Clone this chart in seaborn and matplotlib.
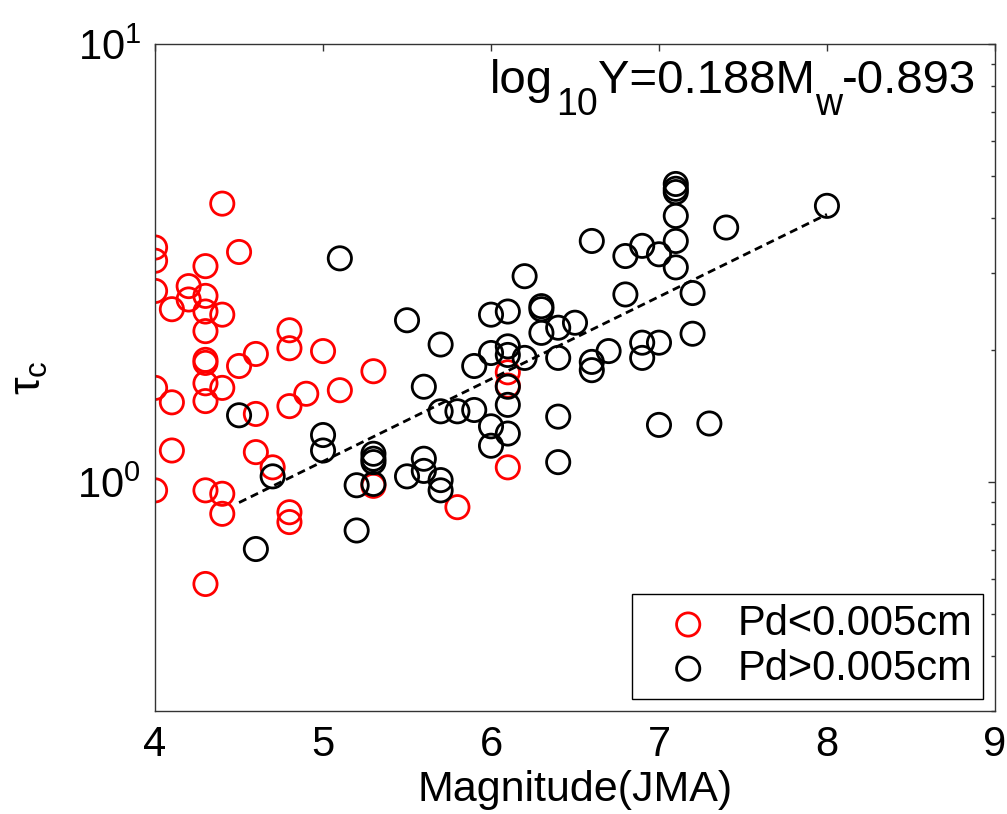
import numpy as np
import pandas as pd
import seaborn as sns
import matplotlib.pyplot as plt
from matplotlib.ticker import FixedLocator, LogLocator, FuncFormatter, NullFormatter

# Pd < 0.005 cm (red)
red_m = [4.4, 4.0, 4.0, 4.5, 4.3, 4.0, 4.2, 4.2, 4.1, 4.3, 4.3, 4.4, 4.3, 4.8, 4.8,
         5.0, 4.6, 4.5, 4.3, 4.3, 5.3, 4.0, 4.3, 4.4, 4.1, 4.3, 4.6, 4.8, 4.9, 5.1,
         4.1, 4.6, 4.7, 4.0, 4.3, 4.4, 4.4, 4.8, 4.8, 4.3, 5.3, 5.8, 6.1, 6.1, 6.1]
red_tau = [4.32, 3.43, 3.20, 3.35, 3.11, 2.73, 2.80, 2.61, 2.48, 2.66, 2.45, 2.41, 2.21, 2.22, 2.02,
           1.99, 1.96, 1.84, 1.90, 1.87, 1.79, 1.64, 1.68, 1.64, 1.52, 1.53, 1.43, 1.49, 1.59, 1.62,
           1.18, 1.17, 1.08, 0.957, 0.957, 0.94, 0.846, 0.853, 0.81, 0.585, 0.98, 0.876, 1.78, 1.66, 1.08]

# Pd > 0.005 cm (black)
blk_m = [5.1, 5.5, 4.5, 5.0, 5.0, 4.7, 5.3, 5.3, 5.3, 5.2, 5.3, 5.5, 5.2, 4.6,
         6.6, 6.8, 6.2, 6.8, 6.0, 6.1, 6.3, 6.3, 6.3, 6.4, 6.5, 5.7, 6.0, 6.1, 6.1,
         6.2, 5.9, 6.4, 6.6, 6.6, 6.7, 6.9, 6.9, 6.1, 6.1, 6.1, 5.6, 5.7, 5.8, 5.9,
         6.0, 6.0, 6.4, 6.4, 5.6, 5.6, 5.7, 5.7, 7.1, 7.1, 7.1, 7.1, 7.1, 7.1, 8.0,
         7.4, 6.9, 7.0, 7.2, 7.2, 7.0, 7.0, 7.3]
blk_tau = [3.24, 2.34, 1.42, 1.28, 1.18, 1.03, 1.16, 1.13, 1.11, 0.983, 0.99, 1.03, 0.775, 0.703,
           3.55, 3.28, 2.95, 2.68, 2.41, 2.45, 2.52, 2.48, 2.19, 2.25, 2.31, 2.06, 1.97, 2.04, 1.95,
           1.92, 1.84, 1.92, 1.88, 1.80, 1.99, 2.08, 1.92, 1.65, 1.50, 1.29, 1.65, 1.45, 1.45, 1.46,
           1.34, 1.21, 1.41, 1.11, 1.13, 1.06, 1.01, 0.957, 4.79, 4.67, 4.59, 4.05, 3.55, 3.09, 4.27,
           3.81, 3.46, 3.31, 2.70, 2.18, 2.08, 1.35, 1.36]

# fit: log10(Y) = 0.188 Mw - 0.893
fit_slope = 0.188
fit_icpt = -0.893
fit_m = [4.5, 8.0]

sns.set_style('white')
plt.rcParams['font.family'] = ['Liberation Sans', 'DejaVu Sans']
plt.rcParams['mathtext.fontset'] = 'custom'
plt.rcParams['mathtext.rm'] = 'Liberation Sans'
plt.rcParams['mathtext.it'] = 'Liberation Sans'
plt.rcParams['mathtext.default'] = 'regular'
for k in ['text.color', 'axes.labelcolor', 'xtick.color', 'ytick.color']:
    plt.rcParams[k] = 'black'

red = pd.DataFrame({'m': red_m, 'tau': red_tau})
blk = pd.DataFrame({'m': blk_m, 'tau': blk_tau})
fit = pd.DataFrame({'m': fit_m})
fit['tau'] = 10 ** (fit_slope * fit['m'] + fit_icpt)

fig = plt.figure(figsize=(10.07, 8.14), dpi=100)
ax = fig.add_axes([0.154, 0.1265, 0.834, 0.8195])

sns.scatterplot(data=red, x='m', y='tau', ax=ax, marker='o', s=280,
                facecolors='none', edgecolor='red', linewidth=2, label='Pd<0.005cm')
sns.scatterplot(data=blk, x='m', y='tau', ax=ax, marker='o', s=280,
                facecolors='none', edgecolor='black', linewidth=2, label='Pd>0.005cm')
sns.lineplot(data=fit, x='m', y='tau', ax=ax, color='black', linestyle=(0, (2.9, 1.8)),
             linewidth=2, legend=False)

ax.set_yscale('log')
ax.set_xlim(4, 9)
ax.set_ylim(0.3, 10)
ax.set_xticks([4, 5, 6, 7, 8, 9])
ax.yaxis.set_major_locator(FixedLocator([1, 10]))
ax.yaxis.set_major_formatter(FuncFormatter(lambda v, p: r'$10^{%d}$' % round(np.log10(v))))
ax.yaxis.set_minor_locator(LogLocator(base=10, subs=np.arange(2, 10)))
ax.yaxis.set_minor_formatter(NullFormatter())

ax.tick_params(which='both', direction='in', top=True, right=True, width=1, color='#333333')
ax.tick_params(which='major', length=5, labelsize=30, pad=10)
ax.tick_params(which='minor', length=3)
for sp in ax.spines.values():
    sp.set_color('#333333')
    sp.set_linewidth(1)

ax.set_xlabel('Magnitude(JMA)', fontsize=31, labelpad=4)
ax.set_ylabel(r'$\tau_c$', fontsize=32, labelpad=20)

# equation, MATLAB-like subscripts built piece by piece
F, FS, drop = 34, 27, -16
x0, yb = 0.399, 0.9265
prev = ax.text(x0, yb, 'log', transform=ax.transAxes, fontsize=F, ha='left', va='baseline')
for s, fs, dy, dx in [('10', FS, drop, 2), ('Y=0.188M', F, 0, 0), ('w', FS, drop, 0), ('-0.893', F, 0, 0)]:
    prev = ax.annotate(s, xy=(1, yb), xycoords=(prev, 'axes fraction'), xytext=(dx, dy),
                       textcoords='offset points', fontsize=fs, ha='left', va='baseline')

leg = ax.legend(loc='lower right', bbox_to_anchor=(0.986, 0.018), borderaxespad=0,
                fontsize=30, fancybox=False, framealpha=1, edgecolor='black',
                handlelength=2.19, handletextpad=0.1, borderpad=0.25, labelspacing=0.1)
leg.get_frame().set_linewidth(1)

fig.savefig('out.png', dpi=100)
